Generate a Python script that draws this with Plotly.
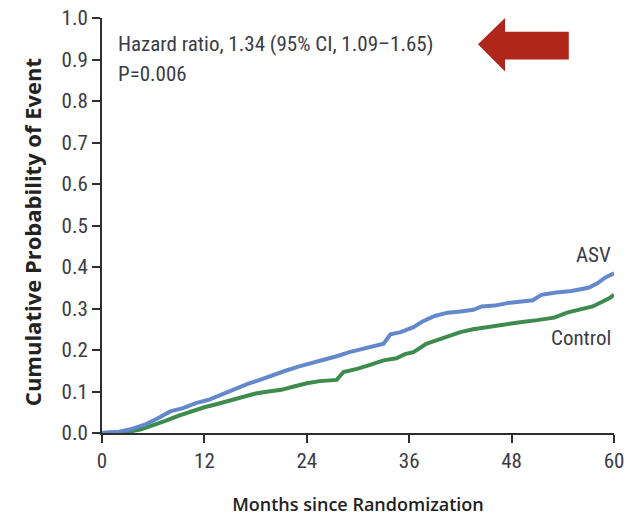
import plotly.graph_objects as go

# Cumulative event curves (months, cumulative probability)
asv_months = [0, 2, 3.5, 5, 6.5, 8, 9.5, 11, 12.5, 14, 15.5, 17, 18.5, 20, 21.5,
              23, 24.5, 26, 27.5, 29, 30.5, 32, 33, 33.8, 35, 36.5, 37.5, 39, 40.5,
              42, 43.5, 44.5, 46, 47.5, 49, 50.5, 51.5, 53, 55, 57, 58, 59, 60]
asv_prob = [0, 0.003, 0.01, 0.02, 0.035, 0.052, 0.06, 0.072, 0.08, 0.093, 0.107,
            0.118, 0.128, 0.14, 0.15, 0.16, 0.168, 0.175, 0.185, 0.195, 0.203,
            0.21, 0.215, 0.238, 0.243, 0.255, 0.268, 0.282, 0.29, 0.293, 0.297,
            0.305, 0.307, 0.313, 0.316, 0.32, 0.333, 0.338, 0.342, 0.35, 0.36,
            0.375, 0.385]

ctrl_months = [0, 3, 4.5, 6, 7.5, 9, 10.5, 12, 13.5, 15, 16.5, 18, 19.5, 21, 22.5,
               24, 25.5, 27.5, 28.3, 30, 31.5, 33, 34.5, 35.5, 36.5, 38, 39, 40.5,
               42, 43.5, 45, 47, 49, 51, 53, 54.5, 56, 57.5, 58.5, 59.5, 60]
ctrl_prob = [0, 0.003, 0.008, 0.018, 0.03, 0.042, 0.053, 0.062, 0.07, 0.078, 0.088,
             0.095, 0.1, 0.104, 0.112, 0.12, 0.125, 0.128, 0.147, 0.155, 0.165,
             0.175, 0.18, 0.19, 0.195, 0.215, 0.222, 0.232, 0.243, 0.25, 0.255,
             0.262, 0.267, 0.272, 0.278, 0.29, 0.298, 0.305, 0.315, 0.325, 0.333]

x_ticks = [0, 12, 24, 36, 48, 60]
y_ticks = [round(i * 0.1, 1) for i in range(11)]
y_tick_labels = [f"{v:.1f}" for v in y_ticks]

# Left-pointing arrow outline (months, probability)
arrow_x = [44.06, 47.23, 47.23, 54.7, 54.7, 47.23, 47.23]
arrow_y = [0.937, 1.0, 0.967, 0.967, 0.9, 0.9, 0.871]

TEXT = "#3b3b48"
AXIS = "#2e2e2e"
NARROW = "Roboto Condensed, sans-serif"
BOLD = "Open Sans, sans-serif"

fig = go.Figure()
fig.add_trace(go.Scatter(x=ctrl_months, y=ctrl_prob, mode="lines",
                         line=dict(color="#3d8b4d", width=4), name="Control"))
fig.add_trace(go.Scatter(x=asv_months, y=asv_prob, mode="lines",
                         line=dict(color="#6388cb", width=4), name="ASV"))

path = "M " + " L ".join(f"{x},{y}" for x, y in zip(arrow_x, arrow_y)) + " Z"
fig.add_shape(type="path", path=path, xref="x", yref="y",
              fillcolor="#b1261b", line=dict(width=0))

fig.add_annotation(x=0, y=0.937, xref="paper", yref="y", xshift=14,
                   text="Hazard ratio, 1.34 (95% CI, 1.09\u20131.65)",
                   showarrow=False, xanchor="left", yanchor="middle",
                   font=dict(family=NARROW, size=21, color=TEXT))
fig.add_annotation(x=0, y=0.866, xref="paper", yref="y", xshift=14,
                   text="P=0.006", showarrow=False, xanchor="left", yanchor="middle",
                   font=dict(family=NARROW, size=21, color=TEXT))
fig.add_annotation(x=60, y=0.430, text="ASV", showarrow=False,
                   xanchor="right", yanchor="middle", xshift=-1,
                   font=dict(family=NARROW, size=21, color=TEXT))
fig.add_annotation(x=60, y=0.230, text="Control", showarrow=False,
                   xanchor="right", yanchor="middle", xshift=-1,
                   font=dict(family=NARROW, size=21, color=TEXT))

# Vertical axis title
fig.add_annotation(x=0, y=0.484, xref="paper", yref="y", xshift=-70,
                   text="Cumulative Probability of Event", textangle=-90,
                   showarrow=False, xanchor="center", yanchor="middle",
                   font=dict(family=BOLD, size=22, color="#222", weight=700))

fig.update_layout(
    width=628, height=517,
    margin=dict(l=102, r=14, t=18, b=84, autoexpand=False),
    plot_bgcolor="white", paper_bgcolor="white",
    showlegend=False,
    xaxis=dict(range=[0, 60], tickvals=x_ticks, ticks="outside", ticklen=8,
               tickwidth=2, tickcolor=AXIS, showgrid=False, zeroline=False,
               showline=True, linecolor=AXIS, linewidth=2, automargin=False,
               tickfont=dict(family=NARROW, size=21, color=TEXT),
               title=dict(text="Months since Randomization", standoff=26,
                          font=dict(family=BOLD, size=18,
                                    color="#222", weight=600))),
    yaxis=dict(range=[0, 1.0], tickvals=y_ticks, ticktext=y_tick_labels,
               ticks="outside", ticklen=8, tickwidth=2, tickcolor=AXIS,
               showgrid=False, zeroline=False, showline=True, linecolor=AXIS,
               linewidth=2, automargin=False,
               tickfont=dict(family=NARROW, size=21, color=TEXT)),
)

fig.write_html("out.html")
